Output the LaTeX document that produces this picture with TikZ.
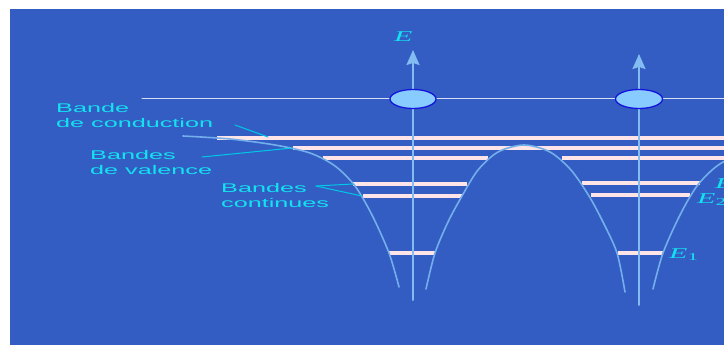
\documentclass[tikz,border=0pt]{standalone}
\usepackage{fontspec}
\newfontfamily\lblfont[FakeStretch=2]{Liberation Sans}
\newfontfamily\enfont[FakeStretch=2]{Liberation Serif}
\usetikzlibrary{arrows.meta}
\definecolor{bgblue}{RGB}{51,93,195}
\definecolor{lblcyan}{RGB}{20,225,240}
\definecolor{leadcyan}{RGB}{0,200,230}
\definecolor{bandpink}{RGB}{255,228,232}
\definecolor{curveblue}{RGB}{115,175,235}
\definecolor{axisblue}{RGB}{130,188,240}
\definecolor{dotfill}{RGB}{136,204,255}
\definecolor{dotedge}{RGB}{20,20,220}
\tikzset{
  band/.style={bandpink, line width=3.3pt, line cap=butt},
  potential/.style={curveblue, line width=1.6pt},
  axis/.style={axisblue, line width=2pt, ->},
  leader/.style={leadcyan, line width=1pt},
  lbl/.style={lblcyan, inner sep=0pt, anchor=north west, align=left,
    font={\lblfont\fontsize{12.6}{15.5}\selectfont}},
  elbl/.style={lblcyan, inner sep=0pt, anchor=base west,
    font={\enfont\itshape\fontsize{15}{18}\selectfont}}
}

\begin{document}
\begin{tikzpicture}[x=1pt, y=-1pt, >={Stealth[length=15pt,width=13pt,inset=2pt]},
    line cap=round, line join=round]
            \useasboundingbox (0,0) rectangle (724,345);
            \fill[white] (0,0) rectangle (724,345);
            \fill[bgblue] (10,9) rectangle (724,345);
            \clip (10,9) rectangle (724,345);

            \coordinate (A) at (413,99);
            \coordinate (B) at (639,99);

            \draw[white!80!bgblue, line width=1pt] (142,99) -- (724,99);

            % energy levels
            \draw[band] (217,138) -- (724,138);
            \draw[band] (293,148) -- (724,148);
            \draw[band] (323,158) -- (488,158);
            \draw[band] (562,158) -- (724,158);
            \draw[band] (353,184) -- (467,184);
            \draw[band] (582,183) -- (700,183);
            \draw[band] (363,196) -- (462,196);
            \draw[band] (591,195) -- (690,195);
            \draw[band] (389,253) -- (435,253);
            \draw[band] (618,253) -- (663,253);

            % potential wells
            \draw[potential] plot[smooth] coordinates {(183,136) (230,139) (275,145) (310,153)
                (335,166) (355,186) (372,215) (389,253) (399,287)};
            \draw[potential] plot[smooth] coordinates {(426,289) (435,253) (448,222) (462,196)
                (478,170) (498,152) (524,145) (550,152) (571,170) (589,196) (603,222)
                (617,253) (625,292)};
            \draw[potential] plot[smooth] coordinates {(653,289) (663,253) (680,215) (697,186)
                (717,166) (742,153) (777,145)};

            \coordinate (Abot) at (413,300);
            \coordinate (Atop) at (413,50);
            \coordinate (Bbot) at (639,305);
            \coordinate (Btop) at (639,54);
            \draw[axis] (Abot) -- (Atop);
            \draw[axis] (Bbot) -- (Btop);

            \draw[fill=dotfill, draw=dotedge, line width=1.3pt] (A) ellipse [x radius=23, y radius=9.5];
            \draw[fill=dotfill, draw=dotedge, line width=1.3pt] (B) ellipse [x radius=23.5, y radius=9.5];

            \node[elbl] (Elbl) at (394,42) {E};
            \node[elbl] (Eone) at (669,258) {E\textsubscript{\upshape 1}};
            \node[elbl] (Etwo) at (697,203) {E\textsubscript{\upshape 2}};
            \node[elbl] (Ethree) at (715,188) {E\textsubscript{\upshape 3}};

            \node[lbl] (conduction) at (56,103) {Bande\\de conduction};
            \node[lbl] (valence) at (90,150) {Bandes\\de valence};
            \node[lbl] (continues) at (221,183) {Bandes\\continues};

            \coordinate (condFrom) at (235,125);
            \coordinate (condTo) at (268,137);
            \coordinate (valFrom) at (202,157);
            \coordinate (valTo) at (292,148);
            \coordinate (contFrom) at (316,186);
            \coordinate (contToA) at (353,184);
            \coordinate (contToB) at (362,196);
            \draw[leader] (condFrom) -- (condTo);
            \draw[leader] (valFrom) -- (valTo);
            \draw[leader] (contFrom) -- (contToA);
            \draw[leader] (contFrom) -- (contToB);

        \end{tikzpicture}
\end{document}
